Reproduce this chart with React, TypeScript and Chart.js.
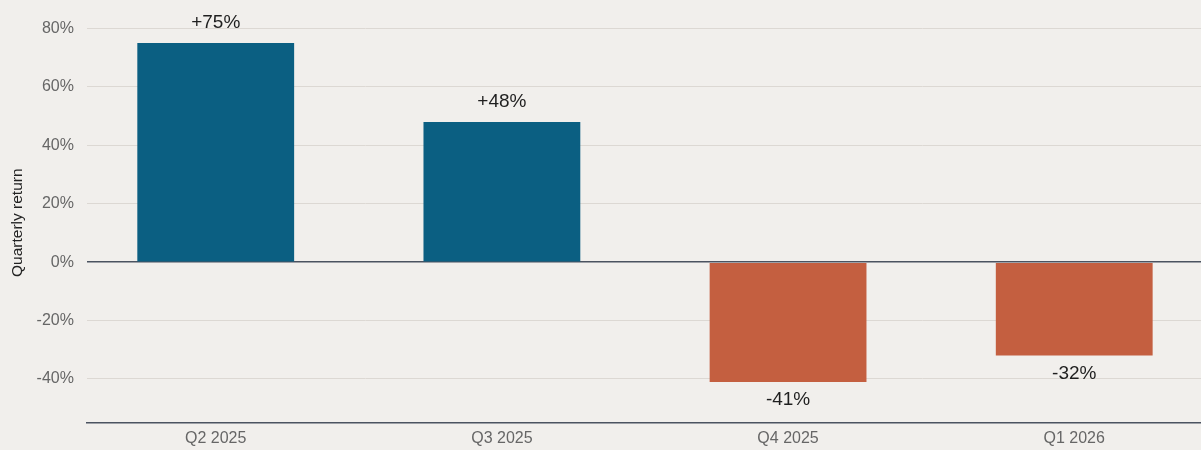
import React, { useEffect, useRef } from "react";
import { Chart, registerables } from "chart.js";

Chart.register(...registerables);

const categories = ["Q2 2025", "Q3 2025", "Q4 2025", "Q1 2026"];
const returns = [75, 48, -41, -32];
const yTicks = [-40, -20, 0, 20, 40, 60, 80];

const POS = "#0b5f82";
const NEG = "#c45f40";
const BG = "#f1efec";
const FONT = '"Liberation Sans", Arial, Helvetica, sans-serif';

const bgPlugin = {
  id: "bg",
  beforeDraw(chart: any) {
    const { ctx, width, height } = chart;
    ctx.save();
    ctx.fillStyle = BG;
    ctx.fillRect(0, 0, width, height);
    ctx.restore();
  },
};

const labelPlugin = {
  id: "barLabels",
  afterDatasetsDraw(chart: any) {
    const { ctx } = chart;
    const meta = chart.getDatasetMeta(0);
    ctx.save();
    ctx.font = `19px ${FONT}`;
    ctx.fillStyle = "#1f1f1f";
    ctx.textAlign = "center";
    ctx.textBaseline = "middle";
    meta.data.forEach((bar: any, i: number) => {
      const v = returns[i];
      const text = (v > 0 ? "+" : "") + v + "%";
      const y = v >= 0 ? bar.y - 20 : bar.y + 18;
      ctx.fillText(text, bar.x, y);
    });
    ctx.restore();
  },
};

export default function App() {
  const ref = useRef<HTMLCanvasElement | null>(null);
  useEffect(() => {
    if (!ref.current) return;
    const chart = new Chart(ref.current, {
      type: "bar",
      data: {
        datasets: [
          {
            data: returns.map((v, i) => ({ x: i, y: v })),
            backgroundColor: returns.map((v) => (v >= 0 ? POS : NEG)),
            borderWidth: 0,
            categoryPercentage: 1,
            barPercentage: 0.548,
          } as any,
        ],
      },
      options: {
        animation: false,
        responsive: false,
        maintainAspectRatio: false,
        layout: { padding: { left: 8, right: 0, top: 0, bottom: -4 } },
        plugins: { legend: { display: false }, tooltip: { enabled: false } },
        scales: {
          x: {
            type: "linear",
            offset: false,
            min: -0.45,
            max: 3.443,
            afterBuildTicks: (scale: any) => {
              scale.ticks = categories.map((_, i) => ({ value: i }));
            },
            ticks: {
              callback: (v: any) => categories[v as number] ?? "",
              color: "#666666",
              font: { family: FONT, size: 16 },
              padding: 6,
              maxRotation: 0,
            },
            grid: { display: false, drawTicks: false },
            border: { display: true, color: "#4b5360", width: 1.5 },
          },
          y: {
            min: -55,
            max: 82,
            afterBuildTicks: (scale: any) => {
              scale.ticks = yTicks.map((v) => ({ value: v }));
            },
            ticks: {
              callback: (v: any) => v + "%",
              color: "#666666",
              font: { family: FONT, size: 16 },
              padding: 13,
            },
            grid: {
              drawTicks: false,
              color: (c: any) => (c.tick && c.tick.value === 0 ? "#4b5360" : "#dcd8d3"),
              lineWidth: (c: any) => (c.tick && c.tick.value === 0 ? 1.5 : 1),
            },
            border: { display: false },
            title: {
              display: true,
              text: "Quarterly return",
              color: "#222222",
              font: { family: FONT, size: 15.5 },
              padding: { top: 0, bottom: -3 },
            },
          },
        },
      },
      plugins: [bgPlugin, labelPlugin],
    });
    return () => chart.destroy();
  }, []);
  return (
    <div style={{ position: "absolute", left: 0, top: 0, width: 1201, height: 450, background: BG }}>
      <canvas ref={ref} width={1201} height={450} style={{ display: "block" }} />
    </div>
  );
}
